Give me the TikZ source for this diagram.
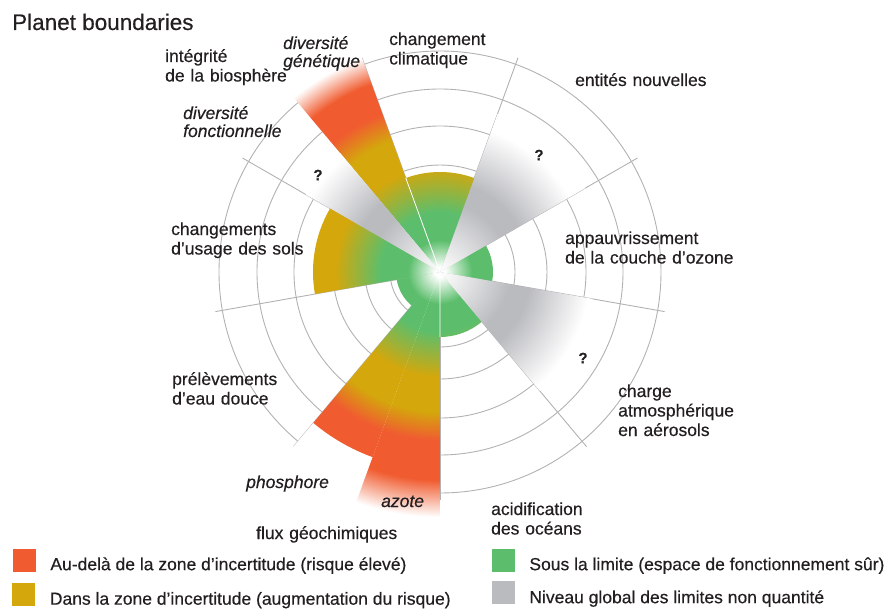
\documentclass[tikz,border=0pt]{standalone}
\usepackage{fontspec}
\setmainfont{Liberation Sans}[FakeBold=0.4]
\usetikzlibrary{positioning, calc}

\definecolor{pbred}{RGB}{240,92,48}
\definecolor{pbyellow}{RGB}{212,167,12}
\definecolor{pbgreen}{RGB}{92,190,108}
\definecolor{pbgray}{RGB}{186,187,191}
\definecolor{pbgrid}{RGB}{178,178,180}
\definecolor{pbtext}{RGB}{35,31,32}
\colorlet{pbgraylt}{white!80!pbgray}

% radial scales, 25bp = radius 250
\pgfdeclareradialshading{zone}{\pgfpointorigin}{color(0bp)=(white); color(0.5bp)=(white); color(3.2bp)=(pbgreen); color(6bp)=(pbgreen); color(10.5bp)=(pbyellow); color(14bp)=(pbyellow); color(16.8bp)=(pbred); color(50bp)=(pbred)}
\pgfdeclareradialshading{zonefadeg}{\pgfpointorigin}{color(0bp)=(white); color(0.5bp)=(white); color(3.2bp)=(pbgreen); color(6bp)=(pbgreen); color(10.5bp)=(pbyellow); color(14bp)=(pbyellow); color(16.8bp)=(pbred); color(20bp)=(pbred); color(22.8bp)=(white); color(50bp)=(white)}
\pgfdeclareradialshading{zonefaden}{\pgfpointorigin}{color(0bp)=(white); color(0.5bp)=(white); color(3.2bp)=(pbgreen); color(6bp)=(pbgreen); color(10.5bp)=(pbyellow); color(14bp)=(pbyellow); color(16.8bp)=(pbred); color(20.8bp)=(pbred); color(24.5bp)=(white); color(50bp)=(white)}
\pgfdeclareradialshading{unknown}{\pgfpointorigin}{color(0bp)=(white); color(1.5bp)=(pbgraylt); color(7bp)=(pbgray); color(9bp)=(pbgray); color(15bp)=(white); color(50bp)=(white)}

\begin{document}
\begin{tikzpicture}[x=1pt, y=1pt,
    grid/.style={draw=pbgrid, line width=0.9pt},
    lbl/.style={anchor=base west, align=left, text width=220pt, inner sep=0pt, text=pbtext, font=\fontsize{17.5}{19.5}\selectfont},
    sub/.style={lbl, font=\fontsize{17.5}{18}\selectfont\itshape},
    keytext/.style={anchor=base west, inner sep=0pt, text=pbtext, font=\fontsize{17.5}{20}\selectfont},
    qmark/.style={inner sep=0pt, text=pbtext, font=\fontsize{15}{15}\selectfont\bfseries},
    key/.style={minimum size=23pt, inner sep=0pt}]
  \useasboundingbox (-440,-336) rectangle (449,272);

  % rings and spokes
  \foreach \r in {50,75,107,146,183,221}
    \draw[grid] (0,0) circle (\r);
  \foreach \a in {-50,-10,...,270}
    \draw[grid] (0,0) -- (\a:228);
  \fill[white] (230:197) arc[start angle=230, end angle=250, radius=197] -- (250:247) arc[start angle=250, end angle=230, radius=247] -- cycle;

  % sectors: from/to angle, radius, scale
  \foreach \a/\b/\r/\s in {-10/30/53/zone, 30/70/168/unknown, 70/110/100/zone,
      110/130/230/zonefadeg, 130/150/155/unknown, 150/190/127/zone, 190/230/44/zone,
      230/250/197/zone, 250/270/250/zonefaden, 270/310/65/zone, 310/350/155/unknown}{
    \begin{scope}
      \clip (0,0) -- (\a:\r) arc[start angle=\a, end angle=\b, radius=\r] -- cycle;
      \shade[shading=\s] (0,0) circle (250);
    \end{scope}
  }
  \draw[white, line width=0.8pt] (0,0) -- (110:100) (0,0) -- (270:65);

  \node[keytext, font=\fontsize{22.5}{27}\selectfont] (title) at (-428,242) {Planet boundaries};

  % boundary names
  \node[lbl] (bio) at (-275,210) {intégrité\\de la biosphère};
  \node[sub] (gen) at (-157,223) {diversité\\génétique};
  \node[sub] (fonc) at (-257,153) {diversité\\fonctionnelle};
  \node[lbl] (clim) at (-51,227) {changement\\climatique};
  \node[lbl] (ent) at (135,186) {entités nouvelles};
  \node[lbl] (ozone) at (125,28) {appauvrissement\\de la couche d’ozone};
  \node[lbl] (aer) at (178,-125) {charge\\atmosphérique\\en aérosols};
  \node[lbl] (ocean) at (51,-243) {acidification\\des océans};
  \node[lbl] (flux) at (-184,-267) {flux géochimiques};
  \node[sub] (azote) at (-59,-235) {azote};
  \node[sub] (phos) at (-194,-216) {phosphore};
  \node[lbl] (eau) at (-268,-113) {prélèvements\\d’eau douce};
  \node[lbl] (sols) at (-269,37) {changements\\d’usage des sols};

  \node[qmark] (qent) at (99,117) {?};
  \node[qmark] (qaer) at (143,-86) {?};
  \node[qmark] (qfonc) at (-122,97) {?};

  % legend
  \node[key, fill=pbred] (kred) at (-415.5,-288.5) {};
  \node[keytext] (tred) at ($(kred.south east)+(14,2)$) {Au-delà de la zone d’incertitude (risque élevé)};
  \node[key, fill=pbyellow] (kyel) at (-416,-322) {};
  \node[keytext] (tyel) at ($(kyel.south east)+(14,1)$) {Dans la zone d’incertitude (augmentation du risque)};
  \node[key, fill=pbgreen] (kgrn) at (63.5,-288.5) {};
  \node[keytext] (tgrn) at ($(kgrn.south east)+(14,2)$) {Sous la limite (espace de fonctionnement sûr)};
  \node[key, fill=pbgray] (kgry) at (63.5,-320.5) {};
  \node[keytext] (tgry) at ($(kgry.south east)+(14,1)$) {Niveau global des limites non quantité};
\end{tikzpicture}
\end{document}
